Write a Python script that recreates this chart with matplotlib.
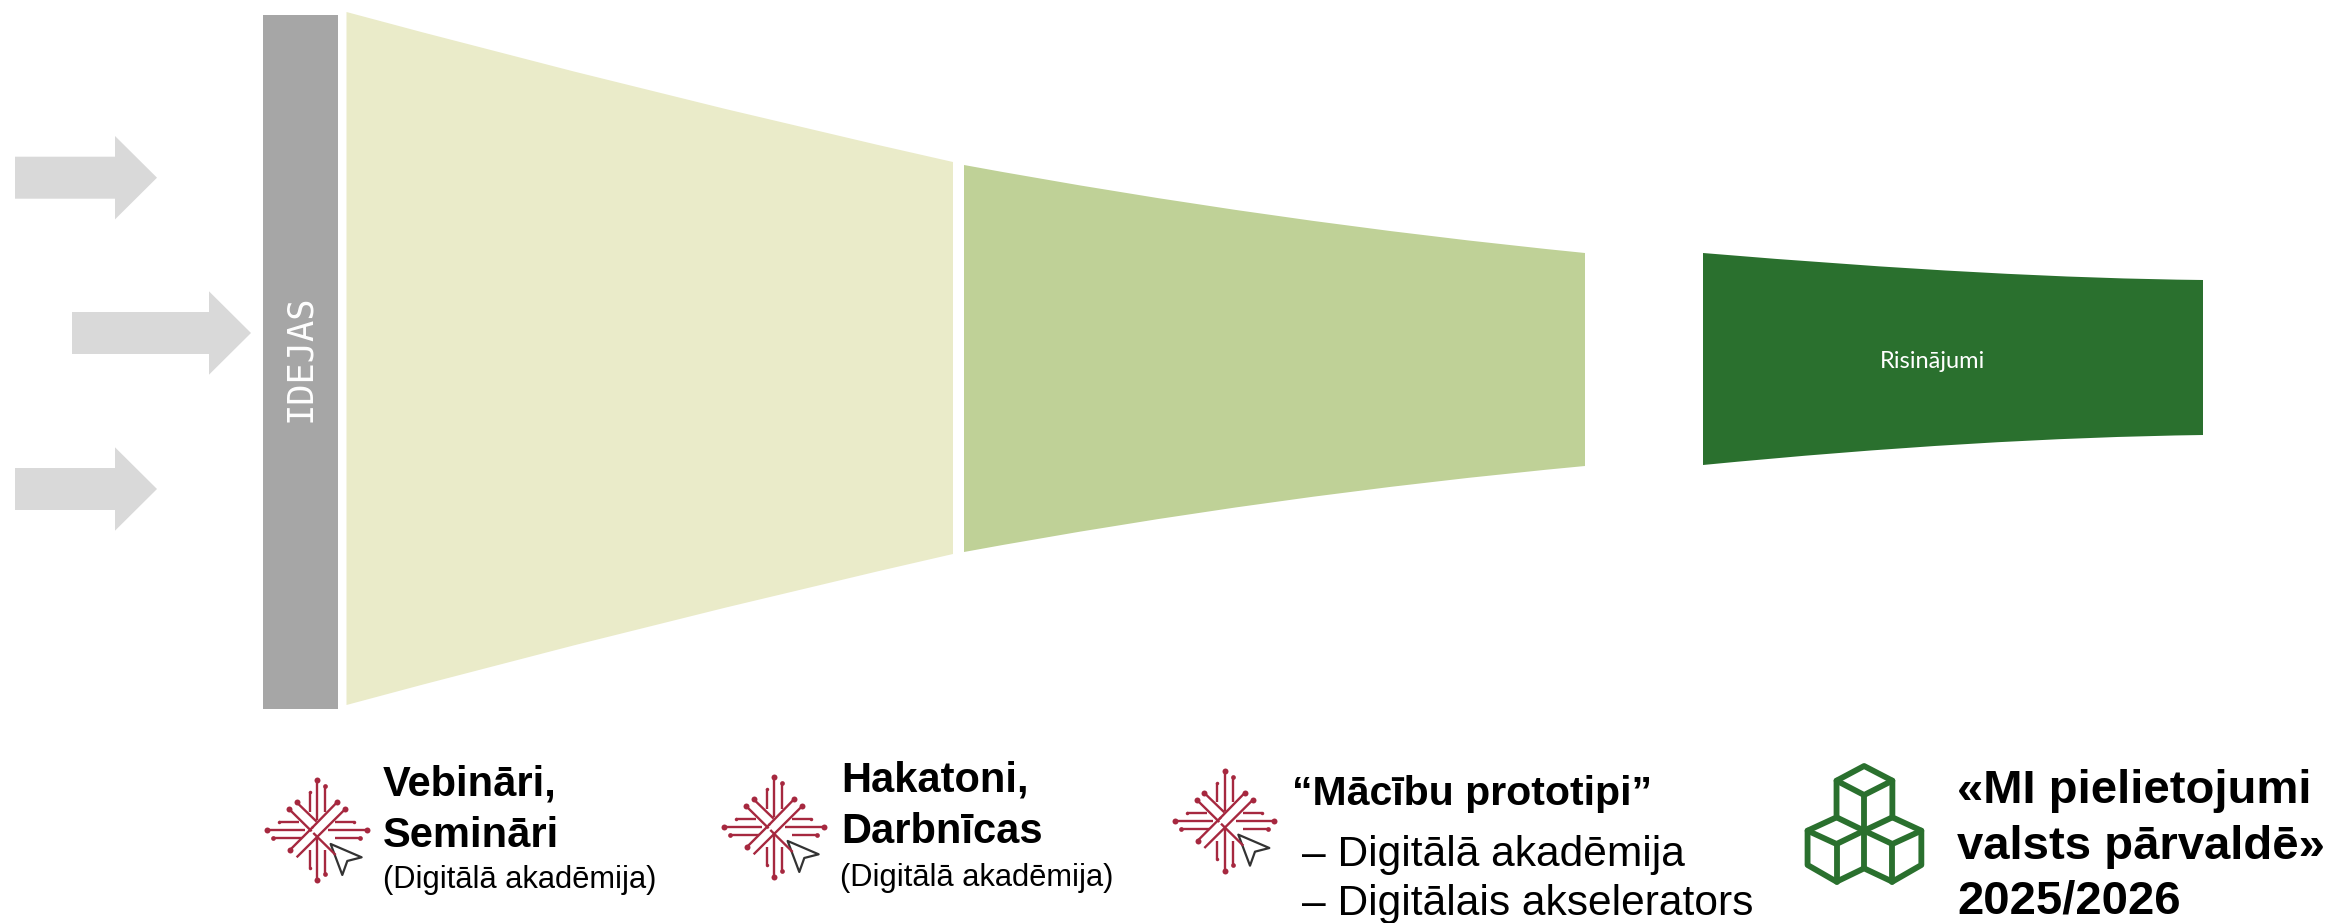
import matplotlib
matplotlib.use("Agg")
import matplotlib.pyplot as plt
from matplotlib.patches import PathPatch, Polygon, Rectangle
from matplotlib.path import Path

W, H = 2334, 923

# Funnel stages, all in picture pixels
STAGE_X0 = [346.5, 964, 1703]
STAGE_X1 = [953, 1585, 2203]
STAGE_TOP0 = [12, 165, 253]
STAGE_TOP1 = [162, 253, 280]
STAGE_BOT0 = [705, 552, 465]
STAGE_BOT1 = [554, 466, 435]
STAGE_CTRL_TOP = [(650, 94), (1274, 222), (2000, 278)]
STAGE_CTRL_BOT = [(650, 623), (1274, 495), (1980, 438)]
STAGE_COLORS = ["#EAEBC9", "#BFD197", "#2A702E"]

ARROW_X0 = [15, 72, 15]
ARROW_NECK = [115, 209, 115]
ARROW_TIP = [157, 251, 157]
ARROW_Y = [177.7, 333, 489]

ICON_CENTERS = [(317.3, 830.3), (774.3, 827.3), (1225, 821)]

LABELS_BOLD = [
    (383, 795, "Vebināri,"), (383, 847, "Semināri"),
    (841, 792, "Hakatoni,"), (841, 843, "Darbnīcas"),
]
LABELS_SUB = [(383, 888, "(Digitālā akadēmija)"), (840, 886, "(Digitālā akadēmija)")]
PROTO_TITLE = "“Mācību prototipi”"
PROTO_LINES = [(866, "– Digitālā akadēmija"), (915, "– Digitālais akselerators")]
MI_LINES = [(803, "«MI pielietojumi"), (859, "valsts pārvaldē»"), (914, "2025/2026")]

RED = "#A6283F"
GREEN = "#2A702E"

# icon parts as offsets at 3x zoom: (x0, y0, x1, y1, dot size in pt)
L, M, S = 4.3, 3.4, 2.5
NET_LINES = [
    (0, -151, 0, -31, L), (24, -133, 24, -56, M), (-23, -114, -23, -56, S),
    (0, 150, 0, 24, L), (24, 131, 24, 59, M), (-23, 113, -23, 59, S),
    (-151, 0, -37, 0, L), (-132, 24, -47, 24, M), (-114, -24, -54, -24, S),
    (148, 0, 33, 0, L), (129, 24, 53, 24, M), (111, -24, 53, -24, S),
    (-62, -84, -2, -26, L), (-84, -63, -17, 3, L), (-12, 8, 55, 74, 0),
    (59, -84, -17, -6, L), (83, -63, -62, 81, L), (-82, 59, -12, -11, L),
]
CURSOR = [(40, 41), (133, 81), (90, 92), (75, 134)]

CUBE_OUTER = [(238, 78), (318, 122), (318, 232), (400, 272), (400, 375), (318, 425),
              (238, 385), (160, 425), (78, 375), (78, 272), (160, 232), (160, 122)]
CUBE_INNER = [
    [(160, 122), (238, 165), (318, 122)], [(238, 165), (238, 385)],
    [(160, 232), (238, 272), (318, 232)], [(78, 272), (160, 312), (238, 272)],
    [(160, 312), (160, 425)], [(238, 272), (318, 312), (400, 272)], [(318, 312), (318, 425)],
]

fig = plt.figure(figsize=(W / 100, H / 100), dpi=100)
ax = fig.add_axes([0, 0, 1, 1])
ax.set_xlim(0, W)
ax.set_ylim(H, 0)
ax.axis("off")


def draw_stage(i):
    x0, x1 = STAGE_X0[i], STAGE_X1[i]
    verts = [(x0, STAGE_TOP0[i]), STAGE_CTRL_TOP[i], (x1, STAGE_TOP1[i]),
             (x1, STAGE_BOT1[i]), STAGE_CTRL_BOT[i], (x0, STAGE_BOT0[i]), (x0, STAGE_TOP0[i])]
    codes = [Path.MOVETO, Path.CURVE3, Path.CURVE3, Path.LINETO,
             Path.CURVE3, Path.CURVE3, Path.CLOSEPOLY]
    ax.add_patch(PathPatch(Path(verts, codes), fc=STAGE_COLORS[i], ec="none"))


def draw_net_icon(cx, cy):
    for x0, y0, x1, y1, s in NET_LINES:
        ax.plot([cx + x0 / 3, cx + x1 / 3], [cy + y0 / 3, cy + y1 / 3], color=RED, lw=1.7,
                solid_capstyle="butt")
        if s:
            ax.plot(cx + x0 / 3, cy + y0 / 3, "o", color=RED, ms=s, mew=0)
    pts = [(cx + x / 3, cy + y / 3) for x, y in CURSOR]
    ax.add_patch(Polygon(pts, closed=True, fc="white", ec="#333333", lw=1.6, joinstyle="round"))


def cube_xy(points):
    return [1780 + x / 2.83 for x, y in points], [740 + y / 3 for x, y in points]


for i in range(3):
    draw_stage(i)

ax.add_patch(Rectangle((263, 15), 75, 694, fc="#A6A6A6", ec="none"))
ax.text(300, 358, "IDEJAS", rotation=90, color="white", ha="center", va="center",
        family="DejaVu Sans Mono", fontsize=25.5)
ax.text(1932, 361, "Risinājumi", color="white", ha="center", va="center",
        family="Lato", fontsize=17)

for x0, neck, tip, y in zip(ARROW_X0, ARROW_NECK, ARROW_TIP, ARROW_Y):
    ax.add_patch(Polygon([(x0, y - 21), (neck, y - 21), (neck, y - 41.7), (tip, y),
                          (neck, y + 41.7), (neck, y + 21), (x0, y + 21)],
                         closed=True, fc="#D9D9D9", ec="none"))

for cx, cy in ICON_CENTERS:
    draw_net_icon(cx, cy)

xs, ys = cube_xy(CUBE_OUTER)
ax.add_patch(Polygon(list(zip(xs, ys)), closed=True, fc="none", ec=GREEN, lw=4.2, joinstyle="round"))
for part in CUBE_INNER:
    xs, ys = cube_xy(part)
    ax.plot(xs, ys, color=GREEN, lw=4.2, solid_joinstyle="round", solid_capstyle="round")

sans = "Liberation Sans"
for x, y, s in LABELS_BOLD:
    ax.text(x, y, s, family=sans, weight="bold", fontsize=30, va="baseline", color="black")
for x, y, s in LABELS_SUB:
    ax.text(x, y, s, family=sans, fontsize=22.2, va="baseline", color="black")
ax.text(1292, 805, PROTO_TITLE, family=sans, weight="bold", fontsize=29.5, va="baseline", color="black")
for y, s in PROTO_LINES:
    ax.text(1302, y, s, family=sans, fontsize=30.6, va="baseline", color="black")
for y, s in MI_LINES:
    ax.text(1957, y, s, family=sans, weight="bold", fontsize=34, va="baseline", color="black")

fig.savefig("out.png", dpi=100, facecolor="white")
